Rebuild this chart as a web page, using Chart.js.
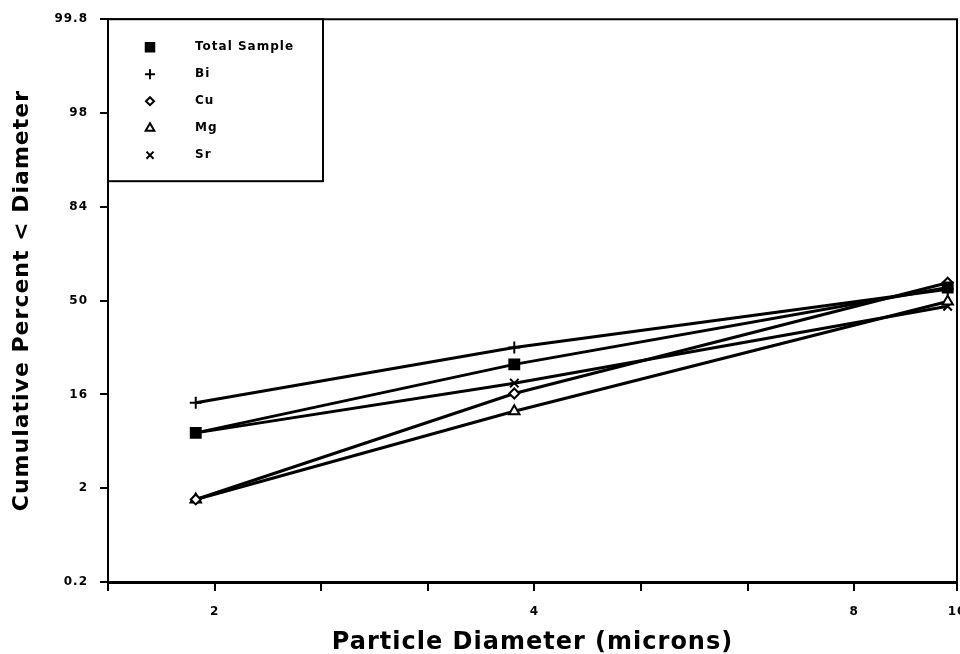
<!DOCTYPE html>
<html>
<head>
<meta charset="utf-8">
<script src="https://cdn.jsdelivr.net/npm/chart.js@4.4.1/dist/chart.umd.min.js"></script>
<style>
  html, body { margin: 0; padding: 0; background: #fff; }
  #wrap { width: 960px; height: 654px; }
</style>
</head>
<body>
<div id="wrap"><canvas id="chart"></canvas></div>
<script>
// particle diameter (microns) of each size cut
const sizes = [1.92, 3.83, 9.8];

// cumulative percent < diameter in sigma units
const totalSample = [-1.41, -0.68, 0.14];
const bi = [-1.09, -0.50, 0.12];
const cu = [-2.12, -0.99, 0.19];
const mg = [-2.12, -1.18, -0.01];
const sr = [-1.41, -0.88, -0.06];

// probability axis labels, one per sigma from -3 to 3
const yTickLabels = ['0.2', '2', '16', '50', '84', '98', '99.8'];
// log axis tick marks, labelled only at 2, 4, 8, 10
const xTickValues = [1.5874, 2, 2.52, 3.175, 4, 5.04, 6.35, 8, 10];
const xTickLabels = ['', '2', '', '', '4', '', '', '8', '10'];

Chart.defaults.font.family = "'DejaVu Sans', sans-serif";
Chart.defaults.font.weight = 'bold';
Chart.defaults.color = '#000';

function series(label, values, style, fill, radius) {
    return {
        label: label,
        data: sizes.map((s, i) => ({ x: s, y: values[i] })),
        borderColor: '#000',
        borderWidth: 3,
        tension: 0,
        pointStyle: style,
        pointRadius: radius,
        pointBackgroundColor: fill,
        pointBorderColor: '#000',
        pointBorderWidth: 2,
        legendRadius: radius - 1
    };
}

// the old plotter font is wide, spread the letters a little
const spacing = {
    id: 'spacing',
    beforeInit(chart) { chart.ctx.letterSpacing = '1px'; },
    beforeDraw(chart) { chart.ctx.letterSpacing = '1px'; }
};

const frame = {
    id: 'frame',
    afterDraw(chart) {
        const { ctx, chartArea } = chart;
        ctx.save();
        ctx.strokeStyle = '#000';
        ctx.lineWidth = 2;
        ctx.beginPath();
        ctx.moveTo(chartArea.left, chartArea.top);
        ctx.lineTo(chartArea.right, chartArea.top);
        ctx.lineTo(chartArea.right, chartArea.bottom);
        ctx.stroke();
        ctx.restore();
    }
};

// boxed legend in the top-left corner of the plot
const boxLegend = {
    id: 'boxLegend',
    afterDraw(chart) {
        const { ctx, chartArea } = chart;
        const x0 = chartArea.left, y0 = chartArea.top;
        ctx.save();
        ctx.fillStyle = '#fff';
        ctx.fillRect(x0, y0, 215, 162);
        ctx.strokeStyle = '#000';
        ctx.lineWidth = 2;
        ctx.strokeRect(x0, y0, 215, 162);
        chart.data.datasets.forEach((ds, i) => {
            const y = y0 + 28 + i * 27;
            ctx.fillStyle = ds.pointBackgroundColor;
            ctx.strokeStyle = '#000';
            ctx.lineWidth = 2;
            Chart.helpers.drawPoint(ctx, {
                pointStyle: ds.pointStyle,
                radius: ds.legendRadius,
                borderWidth: 2,
                rotation: 0
            }, x0 + 42, y);
            ctx.fillStyle = '#000';
            ctx.font = "bold 12px 'DejaVu Sans'";
            ctx.textBaseline = 'middle';
            ctx.textAlign = 'left';
            ctx.fillText(ds.label, x0 + 87, y);
        });
        ctx.restore();
    }
};

new Chart(document.getElementById('chart'), {
    type: 'line',
    data: {
        datasets: [
            series('Total Sample', totalSample, 'rect', '#000', 7),
            series('Bi', bi, 'cross', '#000', 6),
            series('Cu', cu, 'rectRot', '#fff', 5),
            series('Mg', mg, 'triangle', '#fff', 6),
            series('Sr', sr, 'crossRot', '#000', 6)
        ]
    },
    options: {
        responsive: true,
        maintainAspectRatio: false,
        animation: false,
        layout: { autoPadding: false, padding: { top: 16, right: 3, left: 0, bottom: 0 } },
        plugins: {
            legend: { display: false },
            tooltip: { enabled: false }
        },
        elements: { line: { clip: false } },
        scales: {
            x: {
                type: 'logarithmic',
                min: 1.5874,
                max: 10,
                afterBuildTicks: axis => { axis.ticks = xTickValues.map(v => ({ value: v })); },
                afterFit: axis => { axis.height = 72; axis.paddingLeft = 0; axis.paddingRight = 0; },
                grid: { drawOnChartArea: false, drawTicks: true, tickLength: 9, color: '#000', lineWidth: 2 },
                border: { color: '#000', width: 3 },
                ticks: {
                    autoSkip: false,
                    maxRotation: 0,
                    padding: 14,
                    font: { size: 12, weight: 'bold' },
                    color: '#000',
                    callback: (v, i) => xTickLabels[i]
                },
                title: {
                    display: true,
                    text: 'Particle Diameter (microns)',
                    font: { size: 24, weight: 'bold' },
                    color: '#000',
                    padding: { top: 0, bottom: -3 }
                }
            },
            y: {
                type: 'linear',
                min: -3,
                max: 3,
                afterFit: axis => { axis.width = 108; },
                grid: { drawOnChartArea: false, drawTicks: true, tickLength: 8, color: '#000', lineWidth: 2 },
                border: { color: '#000', width: 2 },
                ticks: {
                    stepSize: 1,
                    padding: 12,
                    font: { size: 12, weight: 'bold' },
                    color: '#000',
                    callback: v => yTickLabels[Math.round(v) + 3]
                },
                title: {
                    display: true,
                    text: 'Cumulative Percent < Diameter',
                    font: { size: 22, weight: 'bold' },
                    color: '#000',
                    padding: { top: 9, bottom: 0 }
                }
            }
        }
    },
    plugins: [spacing, frame, boxLegend]
});
</script>
</body>
</html>
